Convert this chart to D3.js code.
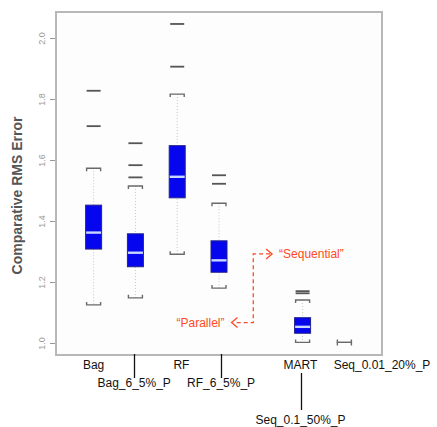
<!DOCTYPE html>
<html>
<head>
<meta charset="utf-8">
<script src="https://cdn.jsdelivr.net/npm/d3@7"></script>
<style>
  body { margin: 0; background: #fff; }
  svg { display: block; font-family: "Liberation Sans", Arial, sans-serif; }
</style>
</head>
<body>
<svg id="chart" width="437" height="427"></svg>
<script>
// boxes, slot = position along the x axis
const names = ['Bag', 'Bag_6_5%_P', 'RF', 'RF_6_5%_P', 'MART', 'Seq_0.01_20%_P'];
const slots = [1, 2, 3, 4, 6, 7];
const lowWhisker = [1.125, 1.148, 1.291, 1.180, 1.002, 1.002];
const q1 = [1.308, 1.250, 1.476, 1.232, 1.032, 1.002];
const median = [1.362, 1.296, 1.545, 1.271, 1.053, 1.002];
const q3 = [1.452, 1.358, 1.647, 1.335, 1.083, 1.002];
const highWhisker = [1.573, 1.515, 1.816, 1.458, 1.141, 1.002];
const outliers = [[1.827, 1.711], [1.655, 1.583, 1.543], [2.046, 1.906], [1.550, 1.522], [1.170, 1.163], []];

// x labels under the plot, staggered over three rows
const tickLabels = ['Bag', 'Bag_6_5%_P', 'RF', 'RF_6_5%_P', 'MART', 'Seq_0.1_50%_P', 'Seq_0.01_20%_P'];
const labelSlots = [1, 1.97, 3.1, 4.05, 5.95, 5.95, 7.9];
const labelRows = [0, 1, 0, 1, 0, 2, 0];
const yTicks = [1.0, 1.2, 1.4, 1.6, 1.8, 2.0];

const svg = d3.select('#chart');
const frame = { left: 56, top: 12, right: 382, bottom: 355 };

const x = d3.scaleLinear().domain([0.1, 7.9]).range([frame.left, frame.right]);
const y = d3.scaleLinear().domain([1, 2]).range([343, 38]);

const BOX_W = 16, CAP_W = 14;

// plot frame
svg.append('rect')
    .attr('x', frame.left).attr('y', frame.top)
    .attr('width', frame.right - frame.left)
    .attr('height', frame.bottom - frame.top)
    .attr('fill', '#fdfdfd')
    .attr('stroke', '#b8b8b8')
    .attr('stroke-width', 2);

// y axis, labels turned like R does
const yAxis = svg.append('g')
    .attr('transform', `translate(${frame.left - 1},0)`)
    .call(d3.axisLeft(y).tickValues(yTicks).tickFormat(d3.format('.1f')).tickSize(5).tickPadding(6));
yAxis.select('.domain').remove();
yAxis.selectAll('line').attr('stroke', '#999');
yAxis.selectAll('text')
    .attr('fill', '#999')
    .attr('font-size', 9)
    .attr('text-anchor', 'middle')
    .attr('transform', 'rotate(-90)')
    .attr('x', 0).attr('dy', 0)
    .attr('y', -10);

svg.append('text')
    .attr('transform', `translate(22,${(frame.top + frame.bottom) / 2 + 12}) rotate(-90)`)
    .attr('text-anchor', 'middle')
    .attr('font-size', 14)
    .attr('font-weight', 'bold')
    .attr('fill', '#555')
    .text('Comparative RMS Error');

const boxes = names.map((name, i) => ({
    name, slot: slots[i], lo: lowWhisker[i], q1: q1[i], med: median[i],
    q3: q3[i], hi: highWhisker[i], out: outliers[i]
}));

const g = svg.selectAll('g.box').data(boxes).join('g').attr('class', 'box');

// dotted whiskers
g.append('line')
    .attr('x1', d => x(d.slot)).attr('x2', d => x(d.slot))
    .attr('y1', d => y(d.hi)).attr('y2', d => y(d.lo))
    .attr('stroke', '#c4c4c4')
    .attr('stroke-dasharray', '1,2');

// whisker caps with small ends bent toward the box
function cap(sel, key, dir) {
    sel.append('path')
        .attr('d', d => {
            const cx = x(d.slot), cy = y(d[key]), h = CAP_W / 2;
            return `M${cx - h},${cy + dir * 3}V${cy}H${cx + h}V${cy + dir * 3}`;
        })
        .attr('fill', 'none')
        .attr('stroke', '#6a6a6a')
        .attr('stroke-width', 1.4);
}
cap(g, 'hi', 1);
cap(g, 'lo', -1);

g.append('rect')
    .attr('x', d => x(d.slot) - BOX_W / 2)
    .attr('y', d => y(d.q3))
    .attr('width', BOX_W)
    .attr('height', d => y(d.q1) - y(d.q3))
    .attr('fill', '#0505ee')
    .attr('stroke', '#23238a')
    .attr('stroke-width', 1);

g.filter(d => d.q3 > d.q1).append('line')
    .attr('x1', d => x(d.slot) - BOX_W / 2 + 0.5).attr('x2', d => x(d.slot) + BOX_W / 2 - 0.5)
    .attr('y1', d => y(d.med)).attr('y2', d => y(d.med))
    .attr('stroke', '#c9d6ff')
    .attr('stroke-width', 2.4);

// outliers drawn as dashes
g.selectAll('line.out').data(d => d.out.map(v => ({ slot: d.slot, v }))).join('line')
    .attr('class', 'out')
    .attr('x1', d => x(d.slot) - CAP_W / 2).attr('x2', d => x(d.slot) + CAP_W / 2)
    .attr('y1', d => y(d.v)).attr('y2', d => y(d.v))
    .attr('stroke', '#555')
    .attr('stroke-width', 1.8);

// category labels
const rowY = [369, 387, 424];
const rowLineTop = [0, frame.bottom - 1, 373];
const rowLineBottom = [0, 378, 410];
const labels = tickLabels.map((t, i) => ({ t, slot: labelSlots[i], row: labelRows[i] }));

svg.selectAll('line.connector').data(labels.filter(d => d.row > 0)).join('line')
    .attr('class', 'connector')
    .attr('x1', d => Math.round(x(d.slot)) + 0.5).attr('x2', d => Math.round(x(d.slot)) + 0.5)
    .attr('y1', d => rowLineTop[d.row]).attr('y2', d => rowLineBottom[d.row])
    .attr('stroke', '#111')
    .attr('stroke-width', 1.3);

svg.selectAll('text.cat').data(labels).join('text')
    .attr('class', 'cat')
    .attr('x', d => x(d.slot))
    .attr('y', d => rowY[d.row])
    .attr('text-anchor', 'middle')
    .attr('font-size', 12)
    .attr('fill', '#111')
    .text(d => d.t);

// "Sequential" / "Parallel" annotation
const red = '#ff4a24';
const ann = { slot: 4.82, top: 1.292, bottom: 1.067, rightTip: 5.27, leftTip: 4.30 };
const ax = x(ann.slot), ayTop = y(ann.top), ayBot = y(ann.bottom);
const annG = svg.append('g').attr('fill', 'none').attr('stroke', red).attr('stroke-width', 1.3);
annG.append('path')
    .attr('d', `M${x(ann.rightTip) - 2},${ayTop}H${ax}V${ayBot}H${x(ann.leftTip) + 2}`)
    .attr('stroke-dasharray', '4,3');
annG.append('path')
    .attr('d', `M${x(ann.rightTip) - 6},${ayTop - 5}L${x(ann.rightTip)},${ayTop}L${x(ann.rightTip) - 6},${ayTop + 5}`);
annG.append('path')
    .attr('d', `M${x(ann.leftTip) + 6},${ayBot - 5}L${x(ann.leftTip)},${ayBot}L${x(ann.leftTip) + 6},${ayBot + 5}`);

svg.append('text')
    .attr('x', x(ann.rightTip) + 7).attr('y', ayTop + 4)
    .attr('font-size', 12).attr('fill', red)
    .text('\u201cSequential\u201d');
svg.append('text')
    .attr('x', x(ann.leftTip) - 7).attr('y', ayBot + 4)
    .attr('text-anchor', 'end')
    .attr('font-size', 12).attr('fill', red)
    .text('\u201cParallel\u201d');
</script>
</body>
</html>
